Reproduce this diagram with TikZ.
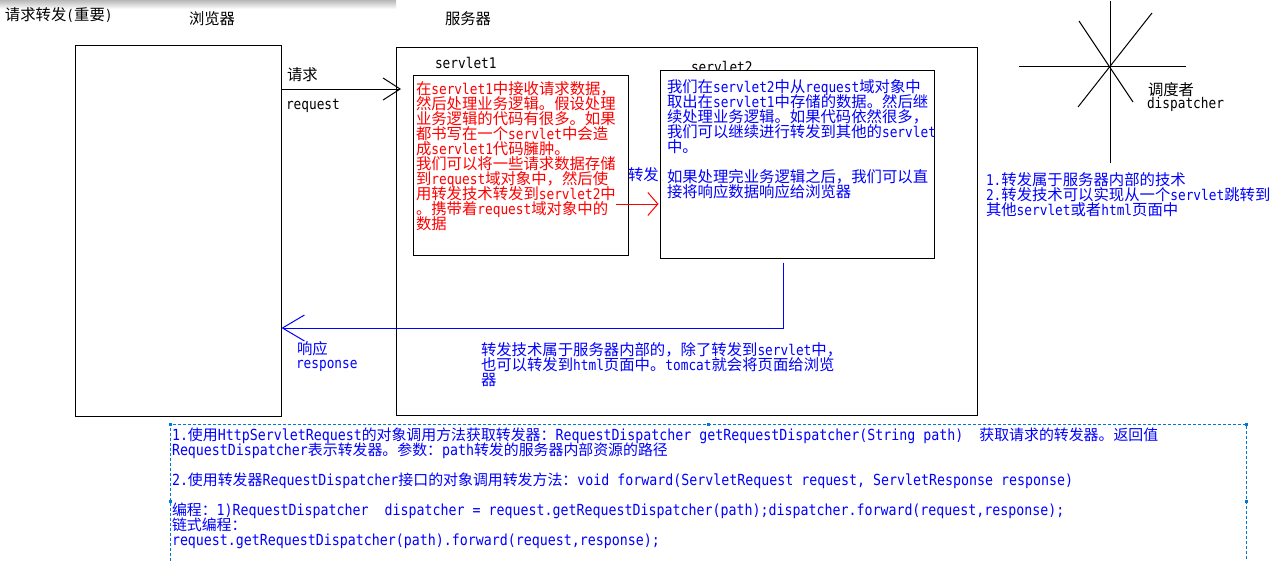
\documentclass[tikz,border=0pt]{standalone}
\usepackage{fontspec}
\usetikzlibrary{arrows.meta}
\setmainfont{DejaVu Sans Mono}[FakeStretch=0.87]
\newfontfamily\cjktop{Noto Sans CJK SC}[Scale=1.045]
\newfontfamily\cjkbot{Noto Sans CJK SC}[Scale=0.976]
\let\curcjk\cjktop
\chardef\cjkclass=7
\newcount\cjkcnt
\def\setcjkrange#1#2{\cjkcnt=#1\relax\loop\XeTeXcharclass\cjkcnt=\cjkclass\advance\cjkcnt by 1\relax\ifnum\cjkcnt<#2\relax\repeat}
\setcjkrange{"3000}{"3040}
\setcjkrange{"4E00}{"A000}
\setcjkrange{"FF00}{"FFF0}
\XeTeXinterchartokenstate=1
\XeTeXinterchartoks 0 \cjkclass = {\curcjk}
\XeTeXinterchartoks 4095 \cjkclass = {\curcjk}
\XeTeXinterchartoks \cjkclass 0 = {\rmfamily}
\XeTeXinterchartoks \cjkclass 4095 = {\rmfamily}
\definecolor{tblue}{RGB}{0,0,255}
\definecolor{tred}{RGB}{255,0,0}
\definecolor{dblue}{RGB}{0,120,215}
\begin{document}
\begin{tikzpicture}[x=1pt,y=-1pt,
  every node/.style={inner sep=0pt, outer sep=0pt},
  lbl/.style={anchor=base west, font=\fontsize{14.7}{15}\selectfont},
  blk/.style={anchor=north west, align=left, font={\fontsize{14.7}{15}\selectfont\lineskiplimit=-20pt}},
  bigblk/.style={anchor=north west, align=left, font={\let\curcjk\cjkbot\fontsize{15.27}{15}\selectfont\lineskiplimit=-20pt}},
  box/.style={draw=black, line width=1pt, fill=white, anchor=north west},
  reqarrow/.style={draw=black, line width=1pt, -{Straight Barb[length=17pt,width=22pt]}},
  fwdarrow/.style={draw=tred, line width=1pt, shorten >=2pt, -{Straight Barb[length=10pt,width=23pt]}},
  resparrow/.style={draw=tblue, line width=1pt, -{Straight Barb[length=22pt,width=26pt]}},
  starline/.style={draw=black, line width=1pt},
  dashbox/.style={draw=dblue, line width=0.9pt, dash pattern=on 3pt off 2pt},
  handle/.style={fill=dblue}
]
\useasboundingbox (0,0) rectangle (1274,560);
\shade[top color=black!28, bottom color=white] (0,0) rectangle (396,9);

% titles
\node[lbl] (title) at (5,20) {请求转发(重要)};
\node[lbl] (browserlbl) at (189,24) {浏览器};
\node[lbl] (serverlbl) at (445,24) {服务器};

% browser and server
\node[box, minimum width=206pt, minimum height=371pt] (browser) at (75.5,45.5) {};
\node[box, minimum width=581pt, minimum height=367.5pt] (server) at (396,47.5) {};

% request arrow
\coordinate (reqtip) at (401,89);
\draw[reqarrow] (browser.east |- reqtip) -- (reqtip);
\node[lbl] (reqcn) at (287,80) {请求};
\node[lbl] (reqen) at (286,109) {request};

% servlet1
\node[lbl] (s1lbl) at (435,68) {servlet1};
\node[box, minimum width=215pt, minimum height=180pt] (s1) at (413,75) {};
\node[blk, text=tred] (s1txt) at (416,82) {在servlet1中接收请求数据，\\
然后处理业务逻辑。假设处理\\
业务逻辑的代码有很多。如果\\
都书写在一个servlet中会造\\
成servlet1代码臃肿。\\
我们可以将一些请求数据存储\\
到request域对象中，然后使\\
用转发技术转发到servlet2中\\
。携带着request域对象中的\\
数据};

% servlet2
\node[lbl] (s2lbl) at (691,72) {servlet2};
\node[box, minimum width=274pt, minimum height=188pt] (s2) at (660.5,70.5) {};
\node[blk, text=tblue] (s2txt) at (667,80) {我们在servlet2中从request域对象中\\
取出在servlet1中存储的数据。然后继\\
续处理业务逻辑。如果代码依然很多，\\
我们可以继续进行转发到其他的servlet\\
中。\\[15pt]
如果处理完业务逻辑之后，我们可以直\\
接将响应数据响应给浏览器};

% forward arrow
\node[lbl, text=tblue] (fwdlbl) at (628,180) {转发};
\coordinate (fwdstart) at (616,204);
\draw[fwdarrow] (fwdstart) -- (s2.west |- fwdstart);

% response arrow
\coordinate (resptip) at (281.5,328);
\draw[resparrow] ([xshift=-14.5pt,yshift=-4pt]s2.south) |- (resptip);
\node[lbl, text=tblue] (respcn) at (297,354) {响应};
\node[lbl, text=tblue] (respen) at (296,368) {response};
\node[blk, text=tblue] (fwdnote) at (481,342) {转发技术属于服务器内部的，除了转发到servlet中，\\
也可以转发到html页面中。tomcat就会将页面给浏览\\
器};

% dispatcher star
\coordinate (star) at (1110,66);
\draw[starline] (1019,66) -- (1186,66);
\draw[starline] (1110,1) -- (1110,163);
\draw[starline] (1079,21) -- (1133,102);
\draw[starline] (1152,13) -- (1078,107);
\node[lbl] (dispcn) at (1148,95) {调度者};
\node[lbl] (dispen) at (1147,108) {dispatcher};

\node[blk, text=tblue] (notes) at (986,173) {1.转发属于服务器内部的技术\\
2.转发技术可以实现从一个servlet跳转到\\
其他servlet或者html页面中};

% bottom dashed box
\draw[dashbox] (170,566) -- (170,424) -- (1246,424) -- (1246,566);
\foreach \hx/\hy in {170/424, 708/424, 1246/424, 170/501, 1246/501}
  \fill[handle] (\hx-1.5,\hy-1.5) rectangle (\hx+1.5,\hy+1.5);
\node[bigblk, text=tblue] (code) at (172,428) {1.使用HttpServletRequest的对象调用方法获取转发器：RequestDispatcher getRequestDispatcher(String path)\ \ 获取请求的转发器。返回值\\
RequestDispatcher表示转发器。参数：path转发的服务器内部资源的路径\\[15pt]
2.使用转发器RequestDispatcher接口的对象调用转发方法：void forward(ServletRequest request, ServletResponse response)\\[15pt]
编程：1)RequestDispatcher\ \ dispatcher = request.getRequestDispatcher(path);dispatcher.forward(request,response);\\
链式编程：\\
request.getRequestDispatcher(path).forward(request,response);};
\end{tikzpicture}
\end{document}
